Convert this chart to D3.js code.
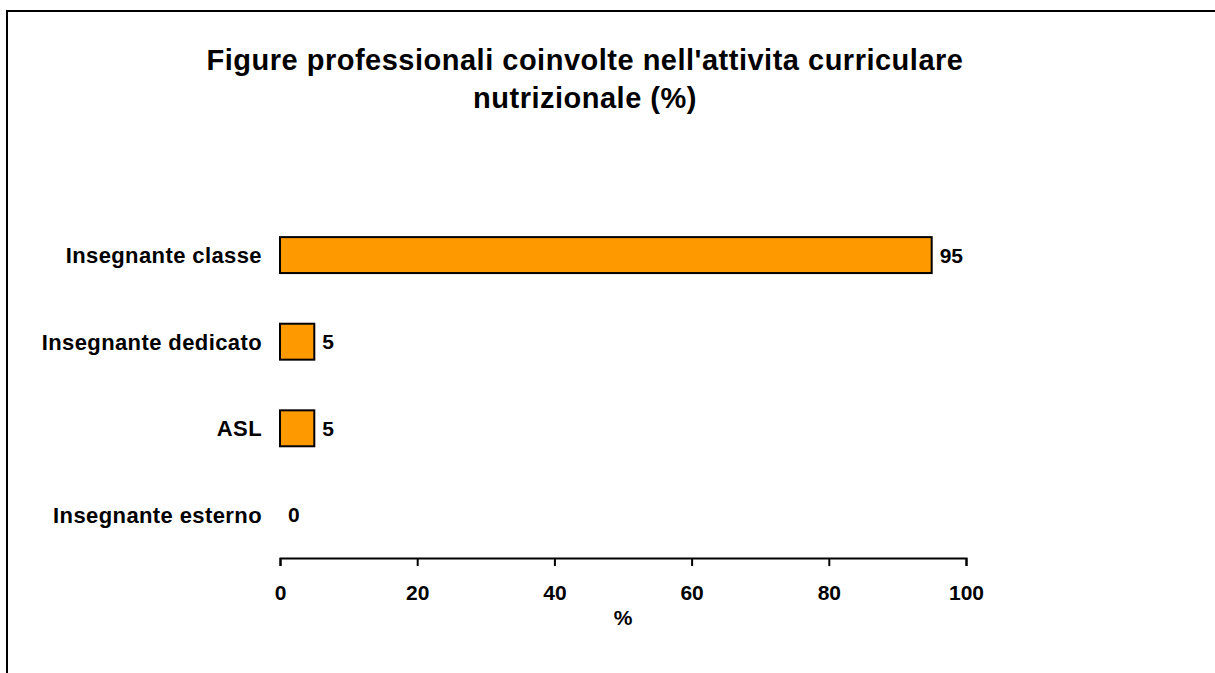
<!DOCTYPE html>
<html>
<head>
<meta charset="utf-8">
<script src="https://cdn.jsdelivr.net/npm/d3@7"></script>
<style>
  body { margin: 0; background: #fff; }
  svg { display: block; font-family: "Liberation Sans", Arial, sans-serif; }
</style>
</head>
<body>
<svg id="chart" width="1215" height="673"></svg>
<script>
// data
const categories = ['Insegnante classe', 'Insegnante dedicato', 'ASL', 'Insegnante esterno'];
const values = [95, 5, 5, 0];
const xTicks = [0, 20, 40, 60, 80, 100];
const titleLines = ["Figure professionali coinvolte nell'attivita curriculare", 'nutrizionale (%)'];

const svg = d3.select('#chart');

// outer frame, runs off the right and bottom edges
svg.append('rect')
  .attr('x', 7).attr('y', 11)
  .attr('width', 1300).attr('height', 800)
  .attr('fill', 'none').attr('stroke', '#000').attr('stroke-width', 2);

svg.append('text')
  .attr('x', 585).attr('y', 70)
  .attr('text-anchor', 'middle')
  .attr('font-size', '29px').attr('font-weight', 'bold')
  .attr('letter-spacing', '0.5px')
  .selectAll('tspan').data(titleLines).enter().append('tspan')
    .attr('x', 585)
    .attr('dy', (d, i) => i === 0 ? 0 : 38)
    .text(d => d);

const x = d3.scaleLinear().domain([0, 100]).range([280, 966]);
const y = d3.scaleBand().domain(categories).range([212, 558]).paddingInner(0.585).paddingOuter(0.29);

// bars
const rows = categories.map((c, i) => ({cat: c, val: values[i]}));
svg.selectAll('.bar').data(rows.filter(d => d.val > 0)).enter().append('rect')
  .attr('class', 'bar')
  .attr('x', x(0))
  .attr('y', d => y(d.cat))
  .attr('width', d => x(d.val) - x(0))
  .attr('height', y.bandwidth())
  .attr('fill', '#ff9900')
  .attr('stroke', '#000').attr('stroke-width', 2);

// value labels
svg.selectAll('.val').data(rows).enter().append('text')
  .attr('class', 'val')
  .attr('x', d => x(d.val) + 8)
  .attr('y', d => y(d.cat) + y.bandwidth() / 2)
  .attr('dy', '0.36em')
  .attr('font-size', '21px').attr('font-weight', 'bold')
  .text(d => d.val);

// category labels
svg.selectAll('.cat').data(categories).enter().append('text')
  .attr('class', 'cat')
  .attr('x', 262)
  .attr('y', d => y(d) + y.bandwidth() / 2)
  .attr('dy', '0.36em')
  .attr('text-anchor', 'end')
  .attr('font-size', '22px').attr('font-weight', 'bold')
  .attr('letter-spacing', '0.4px')
  .text(d => d);

// x axis
const axis = svg.append('g')
  .attr('transform', 'translate(0,558)')
  .call(d3.axisBottom(x).tickValues(xTicks).tickSize(8).tickSizeOuter(8).tickPadding(19));
axis.select('.domain').attr('stroke-width', 2);
axis.selectAll('.tick line').attr('stroke-width', 2);
axis.selectAll('.tick text')
  .attr('font-family', '"Liberation Sans", Arial, sans-serif')
  .attr('font-size', '21px').attr('font-weight', 'bold').attr('fill', '#000');

svg.append('text')
  .attr('x', 623).attr('y', 625)
  .attr('text-anchor', 'middle')
  .attr('font-size', '21px').attr('font-weight', 'bold')
  .text('%');
</script>
</body>
</html>
